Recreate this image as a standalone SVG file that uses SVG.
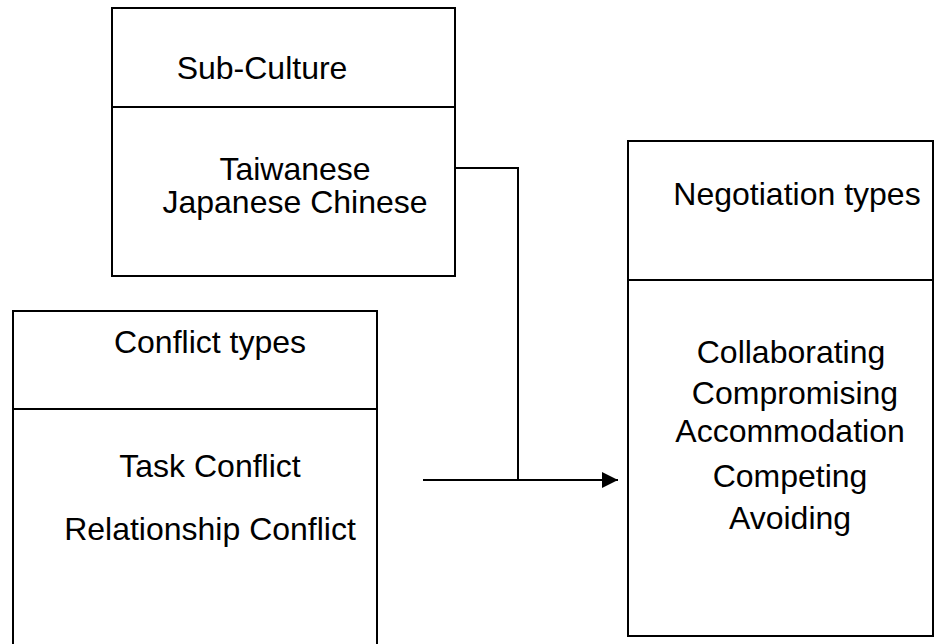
<svg xmlns="http://www.w3.org/2000/svg" width="935" height="644" viewBox="0 0 935 644">
<style>
.box{fill:#fff;stroke:#000;stroke-width:2}
.div{stroke:#000;stroke-width:2}
.t{font-family:"Liberation Sans",Arial,sans-serif;font-size:32px;fill:#000;text-anchor:middle}
.c{fill:none;stroke:#000;stroke-width:2}
</style>
<defs>
<marker id="ah" viewBox="0 0 16 16" refX="16" refY="8" markerWidth="16" markerHeight="16" markerUnits="userSpaceOnUse" orient="auto">
<path d="M0,0 L16,8 L0,16 Z" fill="#000"/>
</marker>
</defs>
<g id="subculture">
<rect class="box" x="112" y="8" width="343" height="268"/>
<line class="div" x1="112" y1="107" x2="455" y2="107"/>
<text class="t" x="262" y="79">Sub-Culture</text>
<text class="t" x="295" y="180">Taiwanese</text>
<text class="t" x="295" y="213">Japanese Chinese</text>
</g>
<g id="conflict">
<rect class="box" x="13" y="311" width="364" height="345"/>
<line class="div" x1="13" y1="409" x2="377" y2="409"/>
<text class="t" x="210" y="353">Conflict types</text>
<text class="t" x="210" y="477">Task Conflict</text>
<text class="t" x="210" y="540">Relationship Conflict</text>
</g>
<g id="negotiation">
<rect class="box" x="628" y="141" width="305" height="495"/>
<line class="div" x1="628" y1="280" x2="933" y2="280"/>
<text class="t" x="797" y="205">Negotiation types</text>
<text class="t" x="791" y="363">Collaborating</text>
<text class="t" x="795" y="404">Compromising</text>
<text class="t" x="790" y="442">Accommodation</text>
<text class="t" x="790" y="487">Competing</text>
<text class="t" x="790" y="529">Avoiding</text>
</g>
<g id="connectors">
<polyline class="c" points="455,168 518,168 518,480"/>
<line class="c" x1="423" y1="480" x2="618" y2="480" marker-end="url(#ah)"/>
</g>
</svg>
